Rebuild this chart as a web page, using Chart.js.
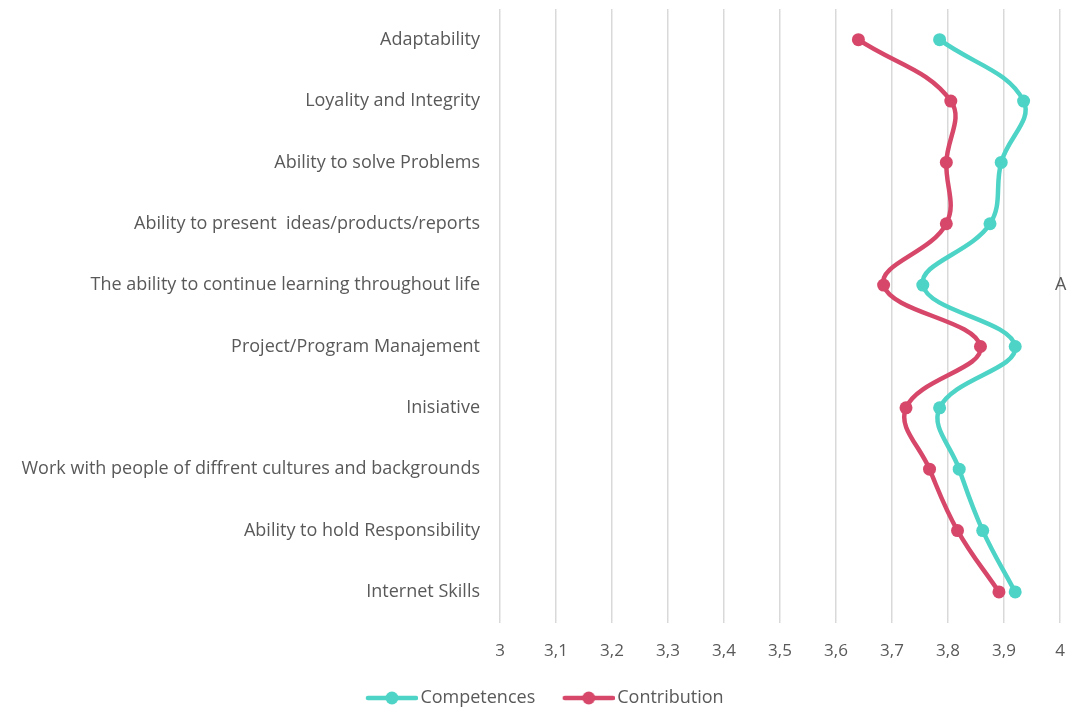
<!DOCTYPE html>
<html>
<head>
<meta charset="utf-8">
<script src="https://cdn.jsdelivr.net/npm/chart.js@4.4.1/dist/chart.umd.min.js"></script>
<style>
  html, body { margin: 0; padding: 0; background: #fff; overflow: hidden; }
  #wrap { width: 1067px; height: 708px; }
</style>
</head>
<body>
<div id="wrap"><canvas id="chart"></canvas></div>
<script>
const categories = [
  'Adaptability',
  'Loyality and Integrity',
  'Ability to solve Problems',
  'Ability to present  ideas/products/reports',
  'The ability to continue learning throughout life',
  'Project/Program Manajement',
  'Inisiative',
  'Work with people of diffrent cultures and backgrounds',
  'Ability to hold Responsibility',
  'Internet Skills'
];
const competences = [3.785, 3.935, 3.895, 3.875, 3.755, 3.92, 3.785, 3.82, 3.862, 3.92];
const contribution = [3.64, 3.805, 3.797, 3.797, 3.685, 3.858, 3.725, 3.767, 3.817, 3.891];
const xTicks = [3, 3.1, 3.2, 3.3, 3.4, 3.5, 3.6, 3.7, 3.8, 3.9, 4];

const teal = '#4dd4c6';
const red = '#d6476a';
const textColor = '#595959';
const fontFamily = '"Open Sans", "DejaVu Sans", sans-serif';

const markerBox = 63;   // legend pointStyleWidth
const markerShift = 12; // push the marker right, close to its text

// legend marker: short line with a dot in the middle
function legendMarker(color) {
  const c = document.createElement('canvas');
  c.width = 52 + markerShift * 2;
  c.height = 16;
  const ctx = c.getContext('2d');
  const x0 = markerShift * 2;
  ctx.strokeStyle = color;
  ctx.lineWidth = 4.5;
  ctx.lineCap = 'round';
  ctx.beginPath();
  ctx.moveTo(x0 + 2, 8);
  ctx.lineTo(x0 + 50, 8);
  ctx.stroke();
  ctx.fillStyle = color;
  ctx.beginPath();
  ctx.arc(x0 + 26, 8, 6.5, 0, Math.PI * 2);
  ctx.fill();
  return c;
}

// stray "A" label at the right edge of the original
const strayLabel = {
  id: 'strayLabel',
  afterDraw(chart) {
    const ctx = chart.ctx;
    const y = chart.scales.y.getPixelForValue(4);
    ctx.save();
    ctx.font = '18px ' + fontFamily;
    ctx.fillStyle = textColor;
    ctx.textAlign = 'left';
    ctx.textBaseline = 'middle';
    ctx.fillText('A', 1055, y);
    ctx.restore();
  }
};

new Chart(document.getElementById('chart'), {
  type: 'line',
  data: {
    labels: categories,
    datasets: [{
      label: 'Competences',
      data: competences,
      borderColor: teal,
      backgroundColor: teal,
      borderWidth: 4.5,
      pointRadius: 6.5,
      pointHoverRadius: 6.5,
      pointBackgroundColor: teal,
      pointBorderWidth: 0,
      tension: 0.4,
      clip: false
    }, {
      label: 'Contribution',
      data: contribution,
      borderColor: red,
      backgroundColor: red,
      borderWidth: 4.5,
      pointRadius: 6.5,
      pointHoverRadius: 6.5,
      pointBackgroundColor: red,
      pointBorderWidth: 0,
      tension: 0.4,
      clip: false
    }]
  },
  options: {
    indexAxis: 'y',
    responsive: true,
    maintainAspectRatio: false,
    animation: false,
    layout: {
      autoPadding: false,
      padding: { left: 12, right: 7, top: 9, bottom: -9 }
    },
    scales: {
      x: {
        type: 'linear',
        min: 3,
        max: 4,
        afterBuildTicks: scale => {
          scale.ticks = xTicks.map(v => ({ value: v }));
        },
        afterFit: scale => {
          scale.paddingLeft = 0;
          scale.paddingRight = 0;
        },
        grid: {
          color: '#d9d9d9',
          lineWidth: 1.5,
          drawTicks: false
        },
        border: { display: false },
        ticks: {
          color: textColor,
          padding: 18,
          maxRotation: 0,
          font: { family: fontFamily, size: 17 },
          callback: v => String(v).replace('.', ',')
        }
      },
      y: {
        type: 'category',
        offset: true,
        grid: { display: false, drawTicks: false },
        border: { display: false },
        afterFit: scale => {
          scale.width = 488;
          scale.paddingTop = 0;
          scale.paddingBottom = 0;
        },
        ticks: {
          color: textColor,
          padding: 20,
          font: { family: fontFamily, size: 18 }
        }
      }
    },
    plugins: {
      legend: {
        position: 'bottom',
        labels: {
          usePointStyle: true,
          pointStyleWidth: markerBox,
          boxHeight: 16,
          padding: 10,
          color: textColor,
          font: { family: fontFamily, size: 18 },
          generateLabels: chart => chart.data.datasets.map((ds, i) => ({
            text: ds.label,
            pointStyle: legendMarker(ds.borderColor),
            fillStyle: ds.borderColor,
            strokeStyle: ds.borderColor,
            lineWidth: 0,
            fontColor: textColor,
            hidden: false,
            datasetIndex: i
          }))
        }
      },
      tooltip: { enabled: false }
    }
  },
  plugins: [strayLabel]
});
</script>
</body>
</html>
